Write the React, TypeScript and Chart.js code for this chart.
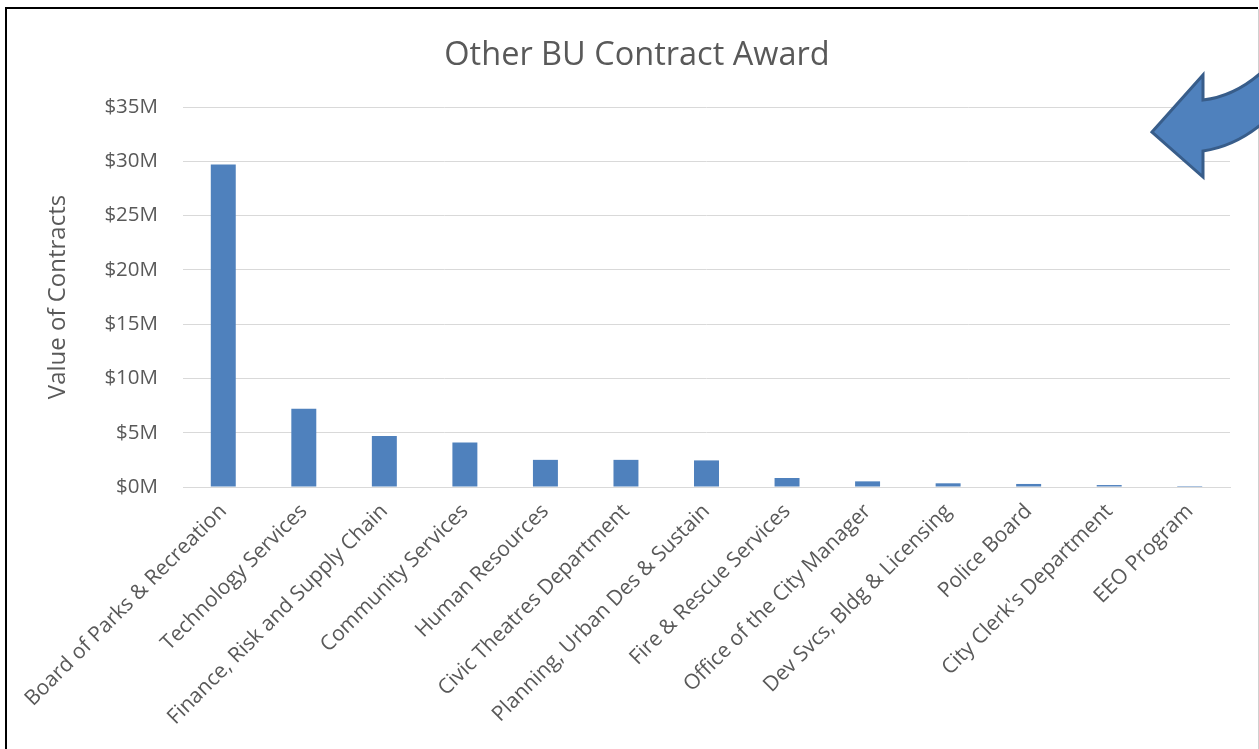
import React, { useEffect, useRef } from "react";
import { Chart, registerables } from "chart.js";
Chart.register(...registerables);

const categories = [
  "Board of Parks & Recreation",
  "Technology Services",
  "Finance, Risk and Supply Chain",
  "Community Services",
  "Human Resources",
  "Civic Theatres Department",
  "Planning, Urban Des & Sustain",
  "Fire & Rescue Services",
  "Office of the City Manager",
  "Dev Svcs, Bldg & Licensing",
  "Police Board",
  "City Clerk's Department",
  "EEO Program",
];
// values in $ millions
const values = [29.7, 7.2, 4.7, 4.1, 2.5, 2.5, 2.45, 0.83, 0.52, 0.34, 0.28, 0.18, 0.09];
const yMax = 35;
const yStep = 5;

const FONT = "'Open Sans', sans-serif";
const GREY = "#595959";

const decorPlugin = {
  id: "decor",
  afterDraw(chart: any) {
    const ctx = chart.ctx as CanvasRenderingContext2D;
    ctx.save();
    // frame
    ctx.strokeStyle = "#000";
    ctx.lineWidth = 2;
    ctx.beginPath();
    ctx.moveTo(6, 760);
    ctx.lineTo(6, 8);
    ctx.lineTo(1258, 8);
    ctx.stroke();
    ctx.strokeStyle = "#d0d0d0";
    ctx.lineWidth = 1;
    ctx.beginPath();
    ctx.moveTo(1258.5, 9);
    ctx.lineTo(1258.5, 749);
    ctx.stroke();
    // arrow
    ctx.beginPath();
    ctx.moveTo(1152, 132);
    ctx.lineTo(1203, 75);
    ctx.lineTo(1203, 100);
    ctx.quadraticCurveTo(1236, 96, 1264, 70);
    ctx.lineTo(1264, 122);
    ctx.quadraticCurveTo(1236, 146, 1203, 151);
    ctx.lineTo(1203, 177);
    ctx.closePath();
    ctx.fillStyle = "#4F81BD";
    ctx.fill();
    ctx.strokeStyle = "#385D8A";
    ctx.lineWidth = 3;
    ctx.lineJoin = "miter";
    ctx.stroke();
    ctx.restore();
  },
};

export default function App() {
  const ref = useRef<HTMLCanvasElement>(null);
  useEffect(() => {
    if (!ref.current) return;
    const chart = new Chart(ref.current, {
      type: "bar",
      data: {
        labels: categories,
        datasets: [
          {
            data: values,
            backgroundColor: "#4F81BD",
            borderWidth: 0,
            barPercentage: 0.31,
            categoryPercentage: 1,
          },
        ],
      },
      options: {
        animation: false,
        responsive: false,
        layout: { padding: { left: 44, right: 29, top: 8, bottom: 0 } },
        plugins: {
          legend: { display: false },
          tooltip: { enabled: false },
          title: {
            display: true,
            text: "Other BU Contract Award",
            color: GREY,
            font: { family: FONT, size: 32.5, weight: "normal" },
            padding: { top: 28, bottom: 32 },
          },
        },
        scales: {
          x: {
            grid: { display: false },
            border: { display: true, color: "#d9d9d9", width: 1 },
            ticks: {
              autoSkip: false,
              maxRotation: 45,
              minRotation: 45,
              color: GREY,
              padding: 4,
              font: { family: FONT, size: 21 },
            },
            afterFit(scale: any) {
              scale.height = 262;
            },
          },
          y: {
            min: 0,
            max: yMax,
            grid: { color: "#d9d9d9", drawTicks: false },
            border: { display: false },
            ticks: {
              stepSize: yStep,
              color: GREY,
              padding: 25,
              font: { family: FONT, size: 20.5 },
              callback: (v: any) => "$" + v + "M",
            },
            title: {
              display: true,
              text: "Value of Contracts",
              color: GREY,
              font: { family: FONT, size: 24 },
              padding: 0,
            },
            afterFit(scale: any) {
              scale.width = 139;
            },
          },
        },
      },
      plugins: [decorPlugin],
    });
    return () => chart.destroy();
  }, []);
  return (
    <div style={{ position: "absolute", left: 0, top: 0, width: 1259, height: 749, background: "#fff" }}>
      <canvas ref={ref} width={1259} height={749} />
    </div>
  );
}
